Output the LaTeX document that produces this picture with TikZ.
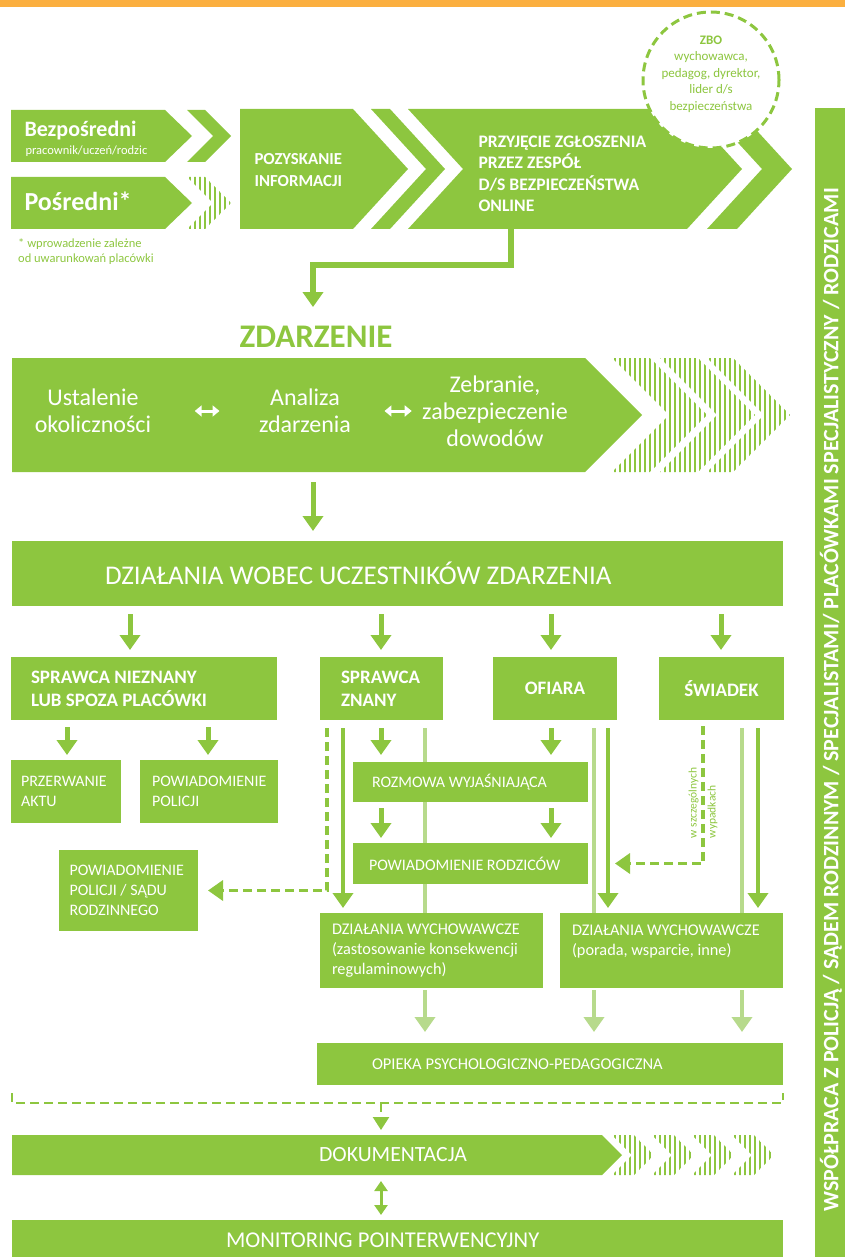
\documentclass[tikz,border=0pt]{standalone}
\usepackage{fontspec}
\setmainfont{Carlito}
\usetikzlibrary{arrows.meta,patterns.meta}

\definecolor{zielony}{HTML}{8DC63F}
\definecolor{blady}{HTML}{B7DA8C}
\definecolor{pomarancz}{HTML}{FBAF3F}

\newcommand\rozm[2]{\fontsize{#1}{#2}\selectfont}

\tikzset{
  kafel/.style={fill=zielony, text=white, anchor=north west, inner ysep=0pt, outer sep=0pt, align=flush left},
  grot/.style={-{Triangle[width=20pt,length=15pt]}},
  gruba/.style={zielony, line width=5pt, grot},
  dluga/.style={zielony, line width=4pt, grot},
  blada/.style={blady, line width=4pt},
  kreski/.style={zielony, line width=3.5pt, dash pattern=on 9pt off 5pt},
  paski/.style={pattern={Lines[angle=90,distance=5pt,line width=2.3pt]}, pattern color=zielony},
  dwustr/.style={white, line width=3pt, {Triangle[width=11pt,length=7pt]}-{Triangle[width=11pt,length=7pt]}},
}

\begin{document}
\begin{tikzpicture}[x=1pt,y=-1pt]

\useasboundingbox (0,0) rectangle (845,1257);

% TOP BAR
\fill[pomarancz] (0,0) rectangle (845,7);

% SIDE BAR
\fill[zielony] (815,108) rectangle (845,1257);
\node[rotate=90, text=white, font=\rozm{22}{26}\bfseries] (wspolpraca) at (831,700)
  {WSPÓŁPRACA Z POLICJĄ / SĄDEM RODZINNYM / SPECJALISTAMI/ PLACÓWKAMI SPECJALISTYCZNY / RODZICAMI};

% ZGLOSZENIE
\fill[zielony] (11,110) -- (165,110) -- (192,136) -- (165,162) -- (11,162) -- cycle;
\fill[zielony] (187,110) -- (205,110) -- (231,136) -- (205,162) -- (187,162) -- (213,136) -- cycle;
\fill[zielony] (11,177) -- (165,177) -- (192,203) -- (165,229) -- (11,229) -- cycle;
\fill[paski] (187,177) -- (205,177) -- (231,203) -- (205,229) -- (187,229) -- (213,203) -- cycle;
\node[anchor=base west, text=white, font=\rozm{22}{26}\bfseries] (bezposredni) at (21,137) {Bezpośredni};
\node[anchor=base west, text=white, font=\rozm{12.5}{15}] (bezpopis) at (22,155) {pracownik/uczeń/rodzic};
\node[anchor=base west, text=white, font=\rozm{26}{30}\bfseries] (posredni) at (21,211) {Pośredni*};
\node[anchor=north west, text=zielony, align=left, inner sep=0pt, font=\rozm{12.5}{15}] (przypis) at (18,238)
  {* wprowadzenie zależne\\od uwarunkowań placówki};

\fill[zielony] (240,109) -- (353,109) -- (408,169) -- (353,229) -- (240,229) -- cycle;
\fill[zielony] (371,109) -- (390,109) -- (445,169) -- (390,229) -- (371,229) -- (426,169) -- cycle;
\fill[zielony] (408,109) -- (687,109) -- (742,169) -- (687,229) -- (408,229) -- (463,169) -- cycle;
\fill[zielony] (707,109) -- (737,109) -- (792,169) -- (737,229) -- (707,229) -- (762,169) -- cycle;
\node[anchor=west, text=white, align=left, font=\rozm{16.8}{22}\bfseries] (pozyskanie) at (251,170)
  {POZYSKANIE\\INFORMACJI};
\node[anchor=west, text=white, align=left, font=\rozm{17.6}{21.5}\bfseries] (przyjecie) at (475,174)
  {PRZYJĘCIE ZGŁOSZENIA\\PRZEZ ZESPÓŁ\\D/S BEZPIECZEŃSTWA\\ONLINE};

% ZBO
\node[circle, draw=zielony, fill=white, line width=3pt, dash pattern=on 9pt off 5pt,
  minimum size=136pt] (zbo) at (711,80) {};
\node[text=zielony, align=center, font=\rozm{13}{16.5}] (zbotekst) at (711,74)
  {\textbf{ZBO}\\wychowawca,\\pedagog, dyrektor,\\lider d/s\\bezpieczeństwa};

% ZDARZENIE
\coordinate (wyjscie) at (511,229);
\coordinate (zakret) at (313,265);
\node[anchor=base, text=zielony, font=\rozm{33}{36}\bfseries] (tytul) at (316,347) {ZDARZENIE};
\draw[zielony, line width=6pt, grot, shorten >=15pt] (wyjscie) |- (zakret) -- (zakret |- tytul.north);

\fill[zielony] (12,358) -- (585,358) -- (642,415) -- (585,472) -- (12,472) -- cycle;
\fill[paski] (612,358) -- (650,358) -- (707,415) -- (650,472) -- (612,472) -- (669,415) -- cycle;
\fill[paski] (660,358) -- (698,358) -- (755,415) -- (698,472) -- (660,472) -- (717,415) -- cycle;
\fill[paski] (707,358) -- (733,358) -- (790,415) -- (733,472) -- (707,472) -- (764,415) -- cycle;
\node[text=white, align=center, font=\rozm{24}{27}] (ustalenie) at (93,411) {Ustalenie\\okoliczności};
\node[text=white, align=center, font=\rozm{24}{27}] (analiza) at (305,411) {Analiza\\zdarzenia};
\node[text=white, align=center, font=\rozm{24}{27}] (zebranie) at (495,411) {Zebranie,\\zabezpieczenie\\dowodów};
\draw[dwustr, shorten <=40pt, shorten >=36pt] (ustalenie.east) -- (analiza.west);
\draw[dwustr, shorten <=30pt, shorten >=7pt] (analiza.east) -- (zebranie.west);

% UCZESTNICY
\coordinate (zdBlok) at (313,472);
\node[kafel, minimum height=65pt, text width=585pt, inner xsep=93pt, font=\rozm{27}{30}] (wobec) at (12,541)
  {DZIAŁANIA WOBEC UCZESTNIKÓW ZDARZENIA};
\draw[gruba, shorten <=10pt, shorten >=10pt] (zdBlok) -- (wobec.north -| zdBlok);

\node[kafel, minimum height=63pt, text width=226pt, inner xsep=20pt, font=\rozm{19}{23}\bfseries] (nieznany) at (11,657)
  {SPRAWCA NIEZNANY\\LUB SPOZA PLACÓWKI};
\node[kafel, minimum height=63pt, text width=81pt, inner xsep=21pt, font=\rozm{19}{23}\bfseries] (znany) at (320,657)
  {SPRAWCA\\ZNANY};
\node[kafel, minimum height=63pt, minimum width=124pt, align=center, font=\rozm{19}{23}\bfseries] (ofiara) at (493,657) {OFIARA};
\node[kafel, minimum height=63pt, minimum width=125pt, align=center, font=\rozm{19}{23}\bfseries] (swiadek) at (659,657) {ŚWIADEK};

\coordinate (kA) at (130,0);
\coordinate (kB) at (381,0);
\coordinate (kC) at (551,0);
\coordinate (kD) at (721,0);
\foreach \k/\cel in {kA/nieznany, kB/znany, kC/ofiara, kD/swiadek}
  \draw[gruba, shorten <=8pt, shorten >=7pt] (wobec.south -| \k) -- (\cel.north -| \k);

% SPRAWCA NIEZNANY
\node[kafel, minimum height=63pt, text width=90pt, inner xsep=10pt, font=\rozm{16}{20}] (przerwanie) at (11,760)
  {PRZERWANIE\\AKTU};
\node[kafel, minimum height=63pt, text width=114pt, inner xsep=12pt, font=\rozm{16}{20}] (policja) at (140,760)
  {POWIADOMIENIE\\POLICJI};
\node[kafel, minimum height=81pt, text width=118pt, inner xsep=10.5pt, font=\rozm{16}{20}] (sad) at (59,850)
  {POWIADOMIENIE\\POLICJI / SĄDU\\RODZINNEGO};
\coordinate (kE) at (67,0);
\coordinate (kF) at (208,0);
\draw[gruba, shorten <=7pt, shorten >=5pt] (nieznany.south -| kE) -- (przerwanie.north -| kE);
\draw[gruba, shorten <=7pt, shorten >=5pt] (nieznany.south -| kF) -- (policja.north -| kF);

% SPRAWCA ZNANY / OFIARA / SWIADEK
\node[kafel, minimum height=40pt, text width=197pt, inner xsep=19pt, font=\rozm{16}{19}] (rozmowa) at (353,762)
  {ROZMOWA WYJAŚNIAJĄCA};
\node[kafel, minimum height=41pt, text width=203pt, inner xsep=16pt, font=\rozm{16}{19}] (rodzice) at (353,843)
  {POWIADOMIENIE RODZICÓW};
\node[kafel, minimum height=75pt, text width=199pt, inner xsep=12pt, font=\rozm{16.3}{20}] (wych1) at (320,913)
  {DZIAŁANIA WYCHOWAWCZE\\(zastosowanie konsekwencji\\regulaminowych)};
\node[kafel, minimum height=75pt, text width=199pt, inner xsep=12pt, font=\rozm{16.3}{20}] (wych2) at (560,913)
  {DZIAŁANIA WYCHOWAWCZE\\(porada, wsparcie, inne)\\~};
\node[kafel, minimum height=42pt, text width=356pt, inner xsep=55pt, font=\rozm{16.5}{20}] (opieka) at (317,1043)
  {OPIEKA PSYCHOLOGICZNO-PEDAGOGICZNA};

\coordinate (kG) at (327,0);
\coordinate (kH) at (343,0);
\coordinate (kI) at (425,0);
\coordinate (kJ) at (594,0);
\coordinate (kK) at (608,0);
\coordinate (kL) at (703,0);
\coordinate (kM) at (742,0);
\coordinate (kN) at (758,0);

\draw[blada, shorten <=8pt] (znany.south -| kI) -- (rozmowa.north -| kI);
\draw[blada] (rozmowa.south -| kI) -- (rodzice.north -| kI);
\draw[blada] (rodzice.south -| kI) -- (wych1.north -| kI);
\draw[blada, shorten <=8pt] (ofiara.south -| kJ) -- (wych2.north -| kJ);
\draw[blada, shorten <=8pt] (swiadek.south -| kM) -- (wych2.north -| kM);

\draw[kreski, grot, shorten <=8pt, shorten >=10pt] (znany.south -| kG) |- (sad.east);
\draw[dluga, shorten <=8pt, shorten >=5pt] (znany.south -| kH) -- (wych1.north -| kH);
\draw[gruba, shorten <=8pt, shorten >=7pt] (znany.south -| kB) -- (rozmowa.north -| kB);
\draw[gruba, shorten <=8pt, shorten >=7pt] (ofiara.south -| kC) -- (rozmowa.north -| kC);
\draw[gruba, shorten <=6pt, shorten >=5pt] (rozmowa.south -| kB) -- (rodzice.north -| kB);
\draw[gruba, shorten <=6pt, shorten >=5pt] (rozmowa.south -| kC) -- (rodzice.north -| kC);
\draw[dluga, shorten <=8pt, shorten >=5pt] (ofiara.south -| kK) -- (wych2.north -| kK);
\draw[dluga, shorten <=8pt, shorten >=5pt] (swiadek.south -| kN) -- (wych2.north -| kN);
\draw[kreski, grot, shorten <=6pt, shorten >=7pt] (swiadek.south -| kL) |- (rodzice.east -| kK);
\node[rotate=90, text=zielony, align=left, font=\rozm{11.5}{19}] (wypadki) at (703,803)
  {w szczególnych\\wypadkach};

\draw[blada, grot, shorten <=2pt, shorten >=11pt] (wych1.south -| kI) -- (opieka.north -| kI);
\draw[blada, grot, shorten <=2pt, shorten >=11pt] (wych2.south -| kJ) -- (opieka.north -| kJ);
\draw[blada, grot, shorten <=2pt, shorten >=11pt] (wych2.south -| kM) -- (opieka.north -| kM);

% DOKUMENTACJA
\draw[kreski, line width=2.5pt] (12,1093) |- (783,1103) -- (783,1093);
\coordinate (klamra) at (381,1103);
\coordinate (dokGora) at (381,1135);
\coordinate (dokDol) at (381,1175);
\draw[kreski, line width=2.5pt, -{Triangle[width=16pt,length=13pt]}, shorten >=5pt] (klamra) -- (dokGora);

\fill[zielony] (12,1135) -- (602,1135) -- (622,1155) -- (602,1175) -- (12,1175) -- cycle;
\foreach \x in {612,652,692,732}
  \fill[paski] (\x,1135) -- (\x+22,1135) -- (\x+42,1155) -- (\x+22,1175) -- (\x,1175) -- (\x+20,1155) -- cycle;
\node[text=white, font=\rozm{21.7}{26}] (dokumentacja) at (393,1155) {DOKUMENTACJA};

\node[kafel, minimum height=40pt, text width=343pt, inner xsep=214pt, font=\rozm{22.6}{26}] (monitoring) at (12,1220)
  {MONITORING POINTERWENCYJNY};
\draw[zielony, line width=3pt, {Triangle[width=13pt,length=10pt]}-{Triangle[width=13pt,length=10pt]},
  shorten <=6pt, shorten >=5pt] (dokDol) -- (monitoring.north -| dokDol);

\end{tikzpicture}
\end{document}
